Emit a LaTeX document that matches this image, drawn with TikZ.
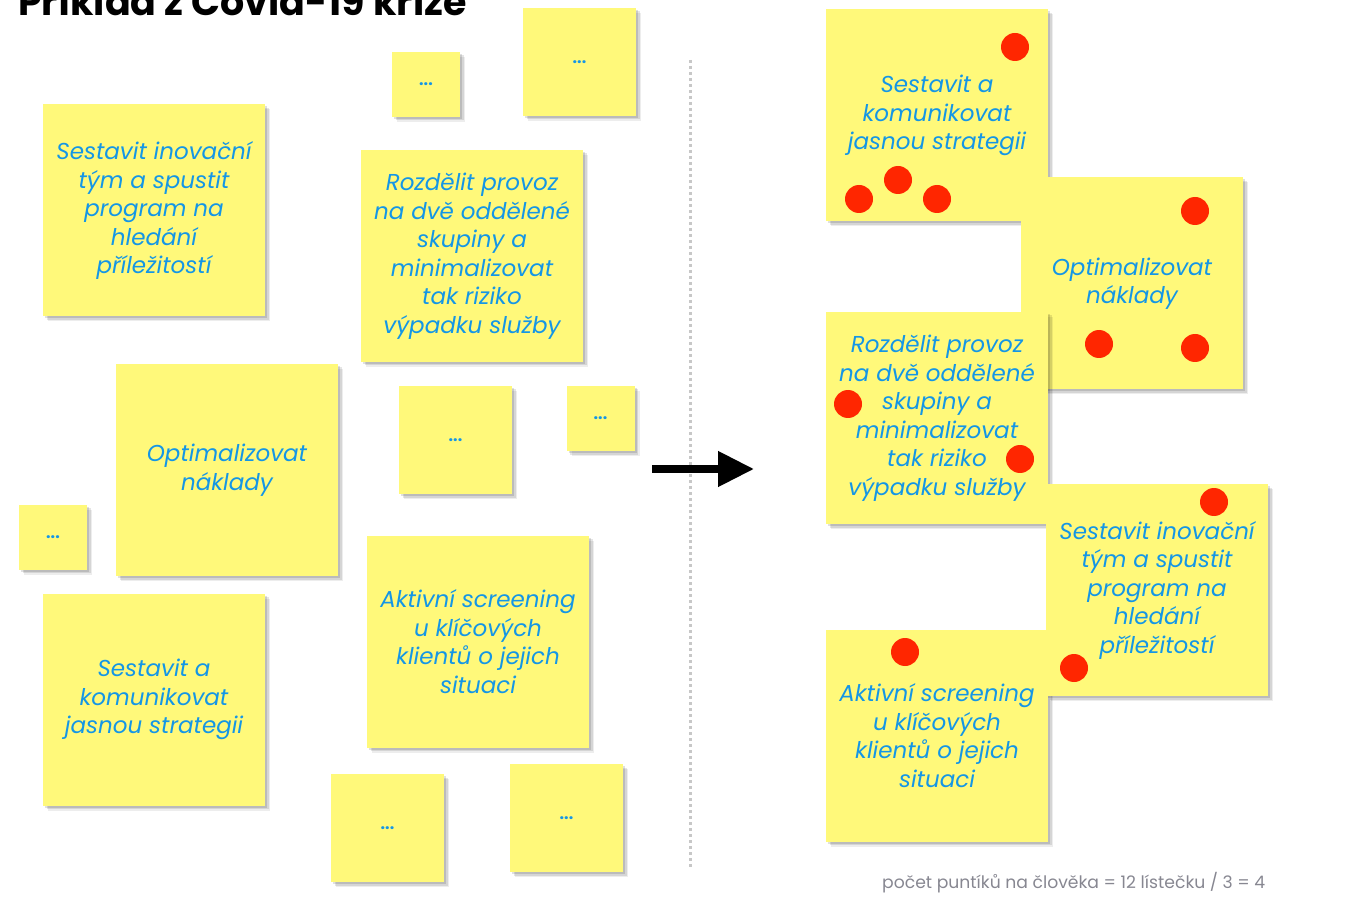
\documentclass[tikz,border=0pt]{standalone}
\usepackage{fontspec}
\setmainfont{Poppins}
\usetikzlibrary{shadows,arrows.meta}
\definecolor{notefill}{RGB}{255,249,122}
\definecolor{notetext}{RGB}{20,150,230}
\definecolor{dotred}{RGB}{255,38,0}
\definecolor{foot}{RGB}{135,135,145}
\tikzset{
  note/.style={fill=notefill, draw=none, inner sep=0pt, align=center,
    text=notetext, font=\fontsize{23}{28.5}\selectfont\itshape,
    general shadow={fill=black, opacity=0.07, shadow xshift=5pt, shadow yshift=-5pt},
    general shadow={fill=black, opacity=0.10, shadow xshift=3.5pt, shadow yshift=-3.5pt},
    general shadow={fill=black, opacity=0.12, shadow xshift=2pt, shadow yshift=-2pt}},
  big/.style={note, minimum width=222pt, minimum height=212pt},
  mid/.style={note, minimum width=113pt, minimum height=108pt, font=\fontsize{16}{18}\selectfont\bfseries},
  small/.style={note, minimum width=68pt, minimum height=65pt, font=\fontsize{16}{18}\selectfont\bfseries},
  vote/.style={circle, fill=dotred, minimum size=28pt, inner sep=0pt},
}
\begin{document}
\begin{tikzpicture}[x=1pt,y=-1pt]
\useasboundingbox (0,0) rectangle (1353,917);
% title
\node[anchor=base west, inner sep=0pt, font=\fontsize{38}{42}\selectfont\bfseries] (title) at (18,16) {Příklad z Covid-19 krize};
% separator
\coordinate (sepT) at (690,60);
\coordinate (sepB) at (690,868);
\draw[line width=3pt, dash pattern=on 3pt off 3pt, black!22] (sepT) -- (sepB);
% left notes
\node[small] (l1) at (426,84.5) {...};
\node[mid] (l2) at (579.5,62) {...};
\node[big] (l3) at (154,210.5) {Sestavit inovační\\tým a spustit\\program na\\hledání\\příležitostí};
\node[big] (l4) at (472,256) {Rozdělit provoz\\na dvě oddělené\\skupiny a\\minimalizovat\\tak riziko\\výpadku služby};
\node[big] (l5) at (227,470) {Optimalizovat\\náklady};
\node[mid] (l6) at (455.5,440) {...};
\node[small] (l7) at (600.5,418.5) {...};
\node[small] (l8) at (53,537) {...};
\node[big] (l9) at (154,699.5) {Sestavit a\\komunikovat\\jasnou strategii};
\node[big] (l10) at (478,641.5) {Aktivní screening\\u klíčových\\klientů o jejich\\situaci};
\node[mid] (l11) at (387.5,828) {...};
\node[mid] (l12) at (566.5,818) {...};
% arrow
\coordinate (arrS) at (652,469);
\coordinate (arrE) at (754,469);
\draw[line width=7.5pt, -{Triangle[length=36pt, width=34pt]}] (arrS) -- (arrE);
% right notes
\node[big] (r1) at (937,115.5) {Sestavit a\\komunikovat\\jasnou strategii};
\node[vote] (r1a) at (1015,47) {};
\node[vote] (r1b) at (859,199) {};
\node[vote] (r1c) at (898,180) {};
\node[vote] (r1d) at (937,199) {};
\node[big] (r2) at (1132,283.5) {Optimalizovat\\náklady};
\node[vote] (r2a) at (1195,211) {};
\node[vote] (r2b) at (1099,344) {};
\node[vote] (r2c) at (1195,348) {};
\node[big] (r3) at (937,418) {Rozdělit provoz\\na dvě oddělené\\skupiny a\\minimalizovat\\tak riziko\\výpadku služby};
\node[vote] (r3a) at (848,404) {};
\node[vote] (r3b) at (1020,459) {};
\node[big] (r5) at (937,735.5) {Aktivní screening\\u klíčových\\klientů o jejich\\situaci};
\node[vote] (r5a) at (905,652) {};
\node[big] (r4) at (1157,590) {Sestavit inovační\\tým a spustit\\program na\\hledání\\příležitostí};
\node[vote] (r4a) at (1214,502) {};
\node[vote] (r4b) at (1074,668) {};
% footer
\node[anchor=base west, inner sep=0pt, text=foot, font=\fontsize{17.2}{20}\selectfont] (foot) at (882,888) {počet puntíků na člověka = 12 lístečku / 3 = 4};
\end{tikzpicture}
\end{document}
